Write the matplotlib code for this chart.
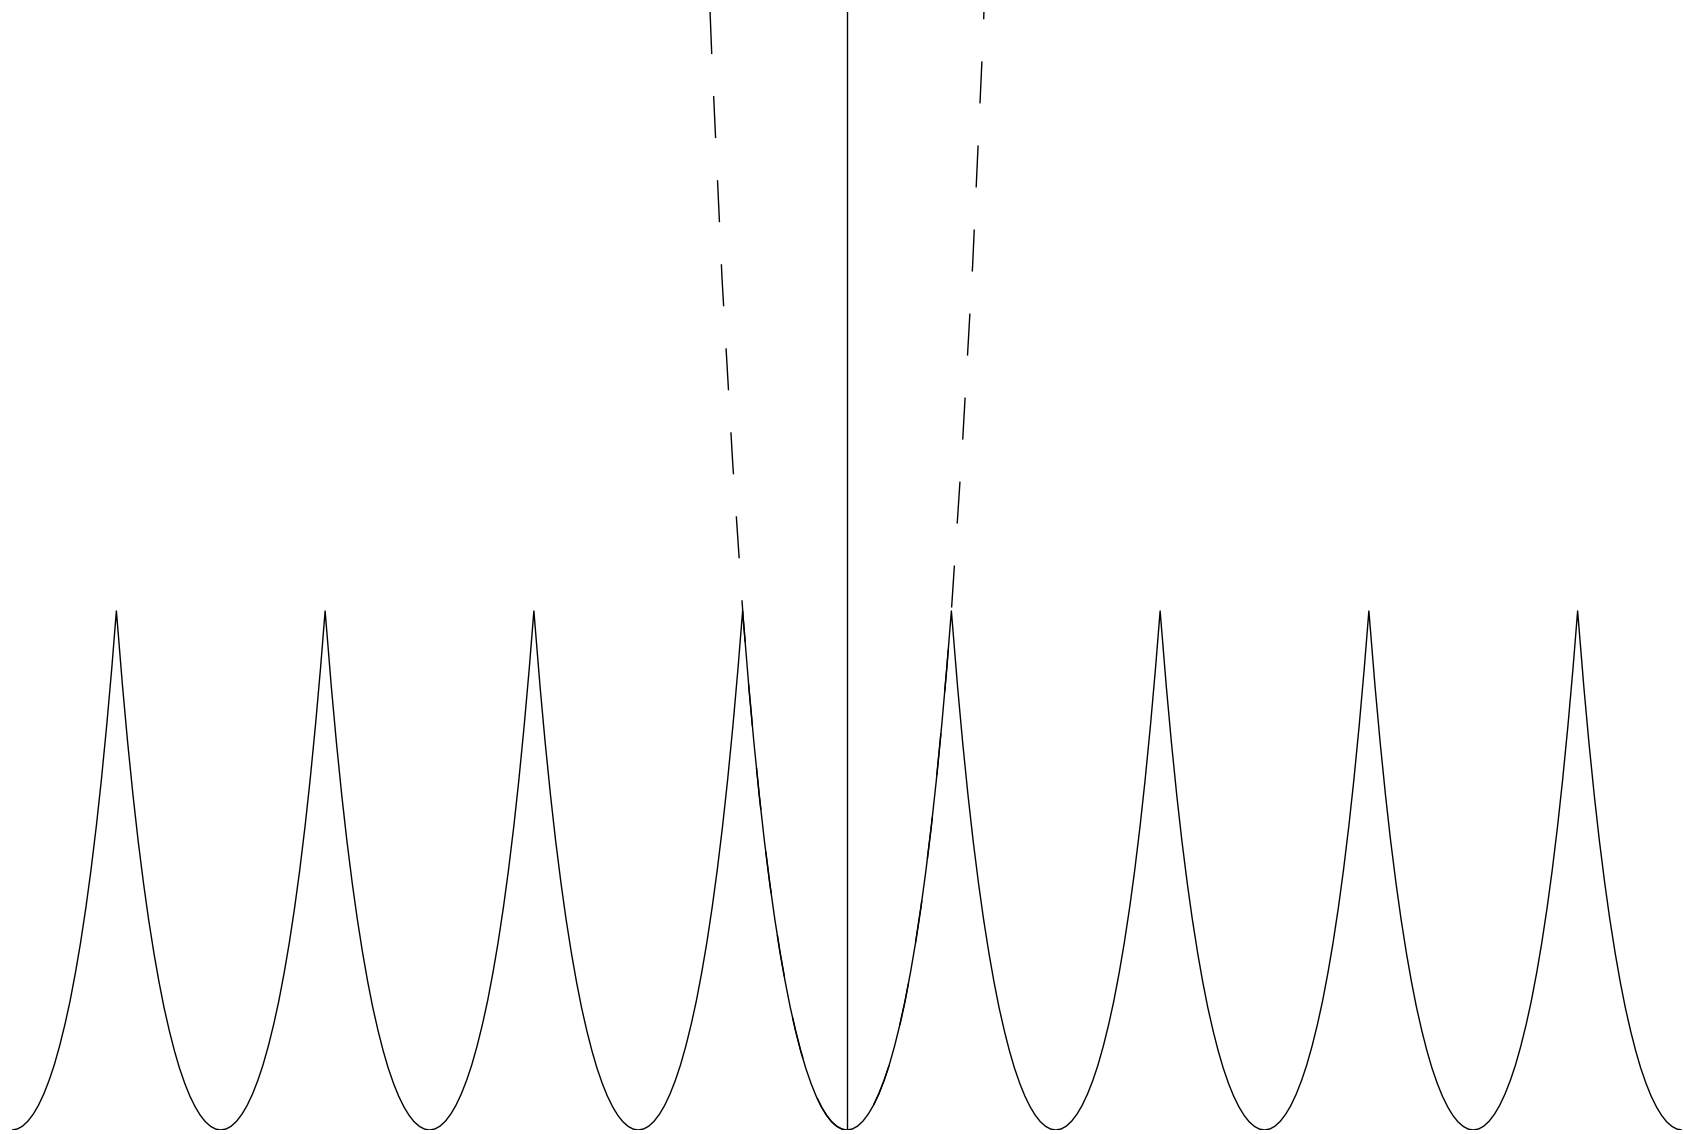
import numpy as np
import matplotlib.pyplot as plt

# Base function on one half period
# (r = distance from the minimum, in half periods; h = height, peak = 1)
r_knots = [0.0, 0.05, 0.1, 0.15, 0.2, 0.25, 0.3, 0.35, 0.4, 0.45, 0.5, 0.55,
           0.6, 0.65, 0.7, 0.75, 0.8, 0.85, 0.9, 0.95, 1.0, 1.1, 1.2, 1.3, 1.4]
h_knots = [0.0, 0.0018, 0.0073, 0.0164, 0.0294, 0.0462, 0.0671, 0.0924, 0.122,
           0.157, 0.197, 0.242, 0.294, 0.352, 0.417, 0.490, 0.571, 0.662, 0.763,
           0.875, 1.0, 1.30, 1.65, 2.09, 2.63]

period = 2.0
x_range = (-8.0, 8.0)
y_top = 2.154

r_knots = np.array(r_knots)
h_knots = np.array(h_knots)

def base(x):
    return np.interp(np.abs(x), r_knots, h_knots)

# periodic extension (solid)
xs = np.linspace(*x_range, 4001)
u = (xs + period / 2) % period - period / 2
ys = base(u)

# the base function itself beyond one period (dashed), up to the top edge
r_top = np.interp(y_top, h_knots, r_knots)
xd = np.linspace(-r_top, r_top, 801)
yd = base(xd)

fig = plt.figure(figsize=(16.84, 11.34), dpi=100)
ax = fig.add_axes([12 / 1684, 4 / 1134, 1670 / 1684, 1118 / 1134])

ax.plot(xs, ys, color='black', lw=1.0)
ax.plot(xd, yd, color='black', lw=1.0, dashes=(30.3, 30.3))
ax.axvline(0, color='black', lw=1.0)

ax.set_xlim(*x_range)
ax.set_ylim(0, y_top)
ax.axis('off')

fig.savefig('out.png', dpi=100)
